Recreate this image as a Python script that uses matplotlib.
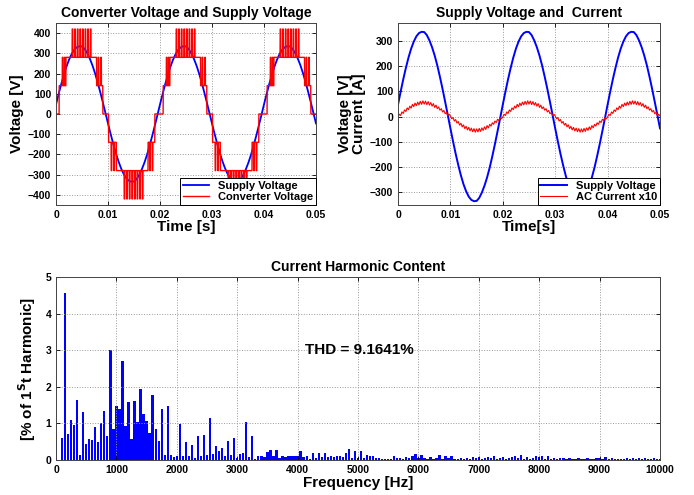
import matplotlib
matplotlib.use('Agg')
import matplotlib.pyplot as plt
import numpy as np

plt.rcParams['font.family'] = ['Liberation Sans', 'DejaVu Sans']
plt.rcParams['font.weight'] = 'bold'

# ---- data ----
# supply voltage over one 50 Hz period, sampled every 0.5 ms [V]
supply_period = [47, 98, 147, 192, 233, 268, 296, 317, 330, 335,
                 334, 322, 301, 274, 241, 202, 157, 109, 58, 6,
                 -47, -98, -147, -192, -233, -268, -296, -317, -330, -335,
                 -334, -322, -301, -274, -241, -202, -157, -109, -58, -6]
supply_dt = 0.0005

# converter staircase over one period: edges [s] and levels [V]
stair_edges = [0.0, 0.0006, 0.0019, 0.0078, 0.0090, 0.0101, 0.0116, 0.0177, 0.0190, 0.0200]
stair_levels = [0, 140, 280, 140, 0, -140, -280, -140, 0]
# switching pulses inside one period: start time [s], level [V]
pulse_times = [0.0012, 0.0016, 0.0031, 0.0036, 0.0041, 0.0046, 0.0051, 0.0056, 0.0061, 0.0066,
               0.0081, 0.0086, 0.0106, 0.0111, 0.0131, 0.0136, 0.0141, 0.0146, 0.0151, 0.0156,
               0.0161, 0.0166, 0.0180, 0.0185]
pulse_levels = [280, 280, 420, 420, 420, 420, 420, 420, 420, 420,
                280, 280, -280, -280, -420, -420, -420, -420, -420, -420,
                -420, -420, -280, -280]
pulse_width = 0.00012

# AC current x10 over one period, sampled every 0.25 ms [A]
current_half = [-2, 9, 4, 18, 12, 26, 20, 34, 27, 41,
                33, 48, 39, 53, 43, 57, 46, 60, 48, 62,
                49, 61, 47, 59, 45, 55, 41, 51, 36, 45,
                31, 38, 25, 31, 18, 24, 11, 16, 4, 9]
current_period = current_half + [-c for c in current_half]
current_dt = 0.00025

# harmonic spectrum, one bar every 50 Hz from 0 Hz [% of fundamental]
harm_amps = [0.70, 0.00, 0.60, 4.55, 0.70, 1.10, 0.95, 1.63, 0.15, 1.32,
             0.45, 0.57, 0.55, 0.90, 0.50, 1.00, 1.35, 0.65, 3.00, 0.85,
             1.47, 1.38, 2.70, 0.93, 1.58, 0.58, 1.60, 1.05, 1.93, 1.25,
             1.07, 0.73, 1.78, 0.85, 0.52, 1.40, 0.15, 1.48, 0.13, 0.08,
             0.12, 0.98, 0.10, 0.50, 0.10, 0.40, 0.05, 0.65, 0.10, 0.67,
             0.15, 1.15, 0.17, 0.38, 0.25, 0.32, 0.12, 0.53, 0.13, 0.60,
             0.05, 0.17, 0.18, 1.05, 0.07, 0.65, 0.03, 0.10, 0.10, 0.08,
             0.22, 0.27, 0.10, 0.27, 0.05, 0.10, 0.08, 0.10, 0.10, 0.12,
             0.12, 0.24, 0.08, 0.10, 0.03, 0.18, 0.05, 0.18, 0.08, 0.18,
             0.07, 0.10, 0.08, 0.10, 0.10, 0.08, 0.20, 0.30, 0.05, 0.25,
             0.05, 0.25, 0.05, 0.15, 0.10, 0.10, 0.05, 0.05, 0.04, 0.04,
             0.03, 0.04, 0.10, 0.06, 0.05, 0.04, 0.08, 0.06, 0.10, 0.16,
             0.05, 0.15, 0.05, 0.04, 0.08, 0.03, 0.05, 0.15, 0.04, 0.12,
             0.06, 0.10, 0.03, 0.04, 0.05, 0.03, 0.06, 0.04, 0.07, 0.05,
             0.08, 0.04, 0.06, 0.08, 0.05, 0.10, 0.03, 0.05, 0.08, 0.04,
             0.06, 0.09, 0.12, 0.05, 0.13, 0.03, 0.08, 0.04, 0.06, 0.10,
             0.07, 0.10, 0.04, 0.10, 0.03, 0.05, 0.04, 0.05, 0.06, 0.03,
             0.05, 0.04, 0.03, 0.05, 0.04, 0.03, 0.05, 0.04, 0.03, 0.06,
             0.05, 0.04, 0.08, 0.03, 0.05, 0.03, 0.04, 0.04, 0.03, 0.05,
             0.04, 0.06, 0.03, 0.05, 0.03, 0.06, 0.04, 0.03, 0.05, 0.04,
             0.03]
harm_step = 50
thd_text = 'THD = 9.1641%'

t_end = 0.05

# ---- build the time series from the per-period data ----
n_sup = int(round(t_end / supply_dt)) + 1
t_sup = np.arange(n_sup) * supply_dt
v_sup = np.tile(supply_period, 3)[:n_sup]

n_cur = int(round(t_end / current_dt)) + 1
t_cur = np.arange(n_cur) * current_dt
i_cur = np.tile(current_period, 3)[:n_cur]

t_conv = np.arange(0, t_end + 1e-7, 1e-5)
tp = np.mod(t_conv, 0.02)
idx = np.clip(np.searchsorted(stair_edges, tp, side='right') - 1, 0, len(stair_levels) - 1)
v_conv = np.array(stair_levels, dtype=float)[idx]
for pt, lvl in zip(pulse_times, pulse_levels):
    v_conv[(tp >= pt) & (tp < pt + pulse_width)] = lvl

freqs = np.arange(len(harm_amps)) * harm_step

fig = plt.figure(figsize=(6.94, 4.95), dpi=100)

tick_fs = 7.5
lab_fs = 11
title_fs = 10


def matlab_axes(ax):
    ax.grid(True, linestyle=':', color='#999999', linewidth=0.7)
    ax.tick_params(direction='in', top=True, right=True, labelsize=tick_fs, length=3, width=0.6)
    for s in ax.spines.values():
        s.set_linewidth(0.7)
        s.set_color('#444444')
    for lab in ax.get_xticklabels() + ax.get_yticklabels():
        lab.set_fontweight('bold')


def matlab_legend(ax):
    leg = ax.legend(loc='lower right', fontsize=8, frameon=True, fancybox=False,
                    borderpad=0.25, labelspacing=0.15, handlelength=2.4, borderaxespad=0,
                    framealpha=1)
    leg.get_frame().set_edgecolor('black')
    leg.get_frame().set_linewidth(0.7)
    for txt in leg.get_texts():
        txt.set_fontweight('bold')


# top left
ax1 = fig.add_axes([0.0807, 0.5859, 0.3746, 0.3677])
ax1.plot(t_sup, v_sup, color='#0000ff', lw=1.3, label='Supply Voltage')
ax1.plot(t_conv, v_conv, color='#ff0000', lw=1.0, label='Converter Voltage')
ax1.set_xlim(0, t_end)
ax1.set_ylim(-450, 450)
ax1.set_xticks([0, 0.01, 0.02, 0.03, 0.04, 0.05])
ax1.set_xticklabels(['0', '0.01', '0.02', '0.03', '0.04', '0.05'])
ax1.set_yticks(np.arange(-400, 401, 100))
ax1.set_title('Converter Voltage and Supply Voltage', fontsize=title_fs, fontweight='bold', pad=4)
ax1.set_xlabel('Time [s]', fontsize=lab_fs, fontweight='bold', labelpad=0)
ax1.set_ylabel('Voltage [V]', fontsize=lab_fs, fontweight='bold', labelpad=3)
matlab_axes(ax1)
matlab_legend(ax1)

# top right
ax2 = fig.add_axes([0.5735, 0.5859, 0.3775, 0.3677])
ax2.plot(t_sup, v_sup, color='#0000ff', lw=1.4, label='Supply Voltage')
ax2.plot(t_cur, i_cur, color='#ff0000', lw=0.8, label='AC Current x10')
ax2.set_xlim(0, t_end)
ax2.set_ylim(-350, 370)
ax2.set_xticks([0, 0.01, 0.02, 0.03, 0.04, 0.05])
ax2.set_xticklabels(['0', '0.01', '0.02', '0.03', '0.04', '0.05'])
ax2.set_yticks(np.arange(-300, 301, 100))
ax2.set_title('Supply Voltage and  Current', fontsize=title_fs, fontweight='bold', pad=4)
ax2.set_xlabel('Time[s]', fontsize=lab_fs, fontweight='bold', labelpad=0)
ax2.set_ylabel('Voltage [V]\nCurrent [A]', fontsize=lab_fs, fontweight='bold', labelpad=3,
               linespacing=0.95)
matlab_axes(ax2)
matlab_legend(ax2)

# bottom
ax3 = fig.add_axes([0.0807, 0.0707, 0.8703, 0.3697])
ax3.bar(freqs, harm_amps, width=38, color='#0000ff', edgecolor='none')
ax3.set_xlim(0, 10000)
ax3.set_ylim(0, 5)
ax3.set_xticks(np.arange(0, 10001, 1000))
ax3.set_yticks(np.arange(0, 6, 1))
ax3.set_title('Current Harmonic Content', fontsize=title_fs, fontweight='bold', pad=4)
ax3.set_xlabel('Frequency [Hz]', fontsize=lab_fs, fontweight='bold', labelpad=1)
ax3.set_ylabel('[% of 1$^{\\mathbf{S}}$t Harmonic]', fontsize=lab_fs, fontweight='bold', labelpad=5)
ax3.text(4120, 3.0, thd_text, fontsize=11, fontweight='bold', va='center', ha='left')
matlab_axes(ax3)

fig.savefig('out.png', dpi=100)
